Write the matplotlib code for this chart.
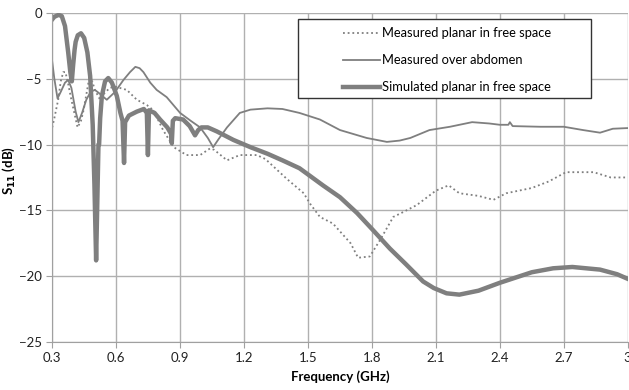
import numpy as np
import matplotlib.pyplot as plt
from matplotlib.patches import Rectangle

plt.rcParams['font.family'] = ['Lato', 'DejaVu Sans']

# measured planar antenna in free space (dotted)
f_planar = [0.300, 0.310, 0.328, 0.340, 0.352, 0.362, 0.375, 0.390, 0.419, 0.435,
            0.447, 0.470, 0.488, 0.500, 0.525, 0.545, 0.570, 0.595, 0.650, 0.697,
            0.744, 0.775, 0.820, 0.870, 0.930, 0.994, 1.040, 1.060, 1.120, 1.180,
            1.260, 1.300, 1.400, 1.480, 1.510, 1.556, 1.617, 1.700, 1.735, 1.790,
            1.840, 1.900, 1.950, 2.010, 2.100, 2.160, 2.210, 2.300, 2.370, 2.430,
            2.550, 2.630, 2.710, 2.840, 2.920, 3.000]
s_planar = [-8.7, -8.0, -6.6, -5.2, -4.5, -4.5, -5.4, -6.6, -8.7, -8.2,
            -7.4, -5.3, -5.2, -5.85, -6.6, -6.1, -5.7, -5.6, -5.85, -6.6,
            -7.0, -7.4, -8.9, -10.2, -10.8, -10.8, -10.3, -10.4, -11.2, -10.8,
            -10.8, -11.1, -12.6, -13.7, -14.5, -15.5, -16.0, -17.5, -18.6, -18.5,
            -17.2, -15.5, -15.1, -14.6, -13.5, -13.1, -13.7, -13.9, -14.2, -13.7,
            -13.3, -12.8, -12.1, -12.1, -12.5, -12.5]

# measured over abdomen (thin solid)
f_abd = [0.300, 0.310, 0.325, 0.340, 0.360, 0.375, 0.390, 0.410, 0.423, 0.440,
         0.460, 0.480, 0.500, 0.520, 0.556, 0.595, 0.634, 0.665, 0.690, 0.710,
         0.728, 0.760, 0.790, 0.837, 0.900, 0.950, 0.994, 1.030, 1.055, 1.080,
         1.120, 1.180, 1.230, 1.310, 1.380, 1.460, 1.556, 1.650, 1.775, 1.870,
         1.930, 1.980, 2.070, 2.166, 2.270, 2.350, 2.400, 2.440, 2.447, 2.460,
         2.590, 2.700, 2.790, 2.870, 2.930, 3.000]
s_abd = [-3.7, -5.0, -6.5, -6.0, -5.3, -5.1, -5.7, -7.5, -8.3, -7.6,
         -6.6, -6.0, -5.85, -6.1, -6.6, -6.0, -5.1, -4.5, -4.1, -4.2,
         -4.5, -5.3, -5.85, -6.4, -7.6, -8.2, -8.7, -9.5, -10.2, -9.6,
         -8.7, -7.6, -7.35, -7.25, -7.3, -7.6, -8.1, -8.9, -9.5, -9.8,
         -9.7, -9.5, -8.9, -8.65, -8.3, -8.4, -8.5, -8.5, -8.3, -8.6,
         -8.65, -8.65, -8.9, -9.1, -8.8, -8.75]

# simulated planar antenna in free space (thick)
f_sim = [0.300, 0.310, 0.330, 0.345, 0.360, 0.375, 0.385, 0.392, 0.398, 0.405,
         0.410, 0.420, 0.435, 0.450, 0.465, 0.478, 0.490, 0.498, 0.506, 0.512,
         0.517, 0.520, 0.525, 0.533, 0.548, 0.563, 0.580, 0.603, 0.620, 0.630,
         0.637, 0.642, 0.660, 0.697, 0.730, 0.744, 0.749, 0.754, 0.780, 0.806,
         0.840, 0.858, 0.861, 0.866, 0.877, 0.914, 0.945, 0.970, 0.985, 1.000,
         1.030, 1.072, 1.150, 1.230, 1.310, 1.380, 1.460, 1.494, 1.570, 1.650,
         1.730, 1.805, 1.884, 1.960, 2.040, 2.090, 2.150, 2.210, 2.300, 2.400,
         2.550, 2.650, 2.740, 2.870, 2.950, 3.000]
s_sim = [-0.5, -0.3, -0.15, -0.25, -1.0, -3.0, -4.5, -5.2, -4.0, -2.8,
         -2.2, -1.7, -1.55, -1.9, -3.0, -4.8, -8.5, -13.0, -18.8, -14.0,
         -10.0, -10.0, -8.0, -6.3, -5.2, -4.95, -5.3, -6.3, -7.6, -8.2,
         -11.4, -8.3, -7.8, -7.5, -7.3, -7.6, -10.8, -7.4, -7.6, -8.1,
         -8.7, -9.2, -9.9, -8.2, -8.0, -8.1, -8.6, -9.3, -8.9, -8.7,
         -8.7, -9.0, -9.65, -10.2, -10.7, -11.2, -11.8, -12.2, -13.1, -14.0,
         -15.2, -16.5, -17.9, -19.1, -20.4, -20.9, -21.3, -21.4, -21.1, -20.5,
         -19.7, -19.4, -19.3, -19.5, -19.85, -20.2]

x_ticks = [0.3, 0.6, 0.9, 1.2, 1.5, 1.8, 2.1, 2.4, 2.7, 3.0]
x_labels = ['0.3', '0.6', '0.9', '1.2', '1.5', '1.8', '2.1', '2.4', '2.7', '3']
y_ticks = [0, -5, -10, -15, -20, -25]

line_col = '#7f7f7f'

fig = plt.figure(figsize=(6.29, 3.90), dpi=100)
ax = fig.add_axes([0.083, 0.123, 0.915, 0.844])

ax.plot(f_planar, s_planar, color=line_col, lw=1.3, ls=(0, (1, 1.6)),
        label='Measured planar in free space')
ax.plot(f_abd, s_abd, color=line_col, lw=1.3, label='Measured over abdomen')
ax.plot(f_sim, s_sim, color=line_col, lw=3.2, solid_joinstyle='round',
        label='Simulated planar in free space')

ax.set_xlim(0.3, 3.0)
ax.set_ylim(-25, 0)
ax.set_xticks(x_ticks)
ax.set_xticklabels(x_labels)
ax.set_yticks(y_ticks)
ax.grid(True, color='#b0b0b0', lw=1.0)
ax.set_axisbelow(True)
for side in ['top', 'right']:
    ax.spines[side].set_visible(False)
for side in ['left', 'bottom']:
    ax.spines[side].set_color('#a0a0a0')
ax.tick_params(axis='both', length=4, color='#a0a0a0', labelsize=9.5, labelcolor='#222222')

ax.set_xlabel('Frequency (GHz)', fontsize=9.5, fontweight='bold', labelpad=4)
ax.set_ylabel('S$_{\\mathbf{11}}$ (dB)', fontsize=9.5, fontweight='bold')
ax.yaxis.set_label_coords(-0.062, 0.52)

# legend box drawn separately so the entries sit centred in a wide frame
ax.add_patch(Rectangle((0.427, 0.742), 0.509, 0.240, transform=ax.transAxes,
                       facecolor='white', edgecolor='#333333', lw=1.0, zorder=4))
leg = ax.legend(loc='upper left', bbox_to_anchor=(0.505, 0.956), fontsize=9.3,
                handlelength=2.9, handletextpad=0.15, labelspacing=1.15,
                borderpad=0, frameon=False, borderaxespad=0)
leg.set_zorder(5)

fig.savefig('out.png', dpi=100)
